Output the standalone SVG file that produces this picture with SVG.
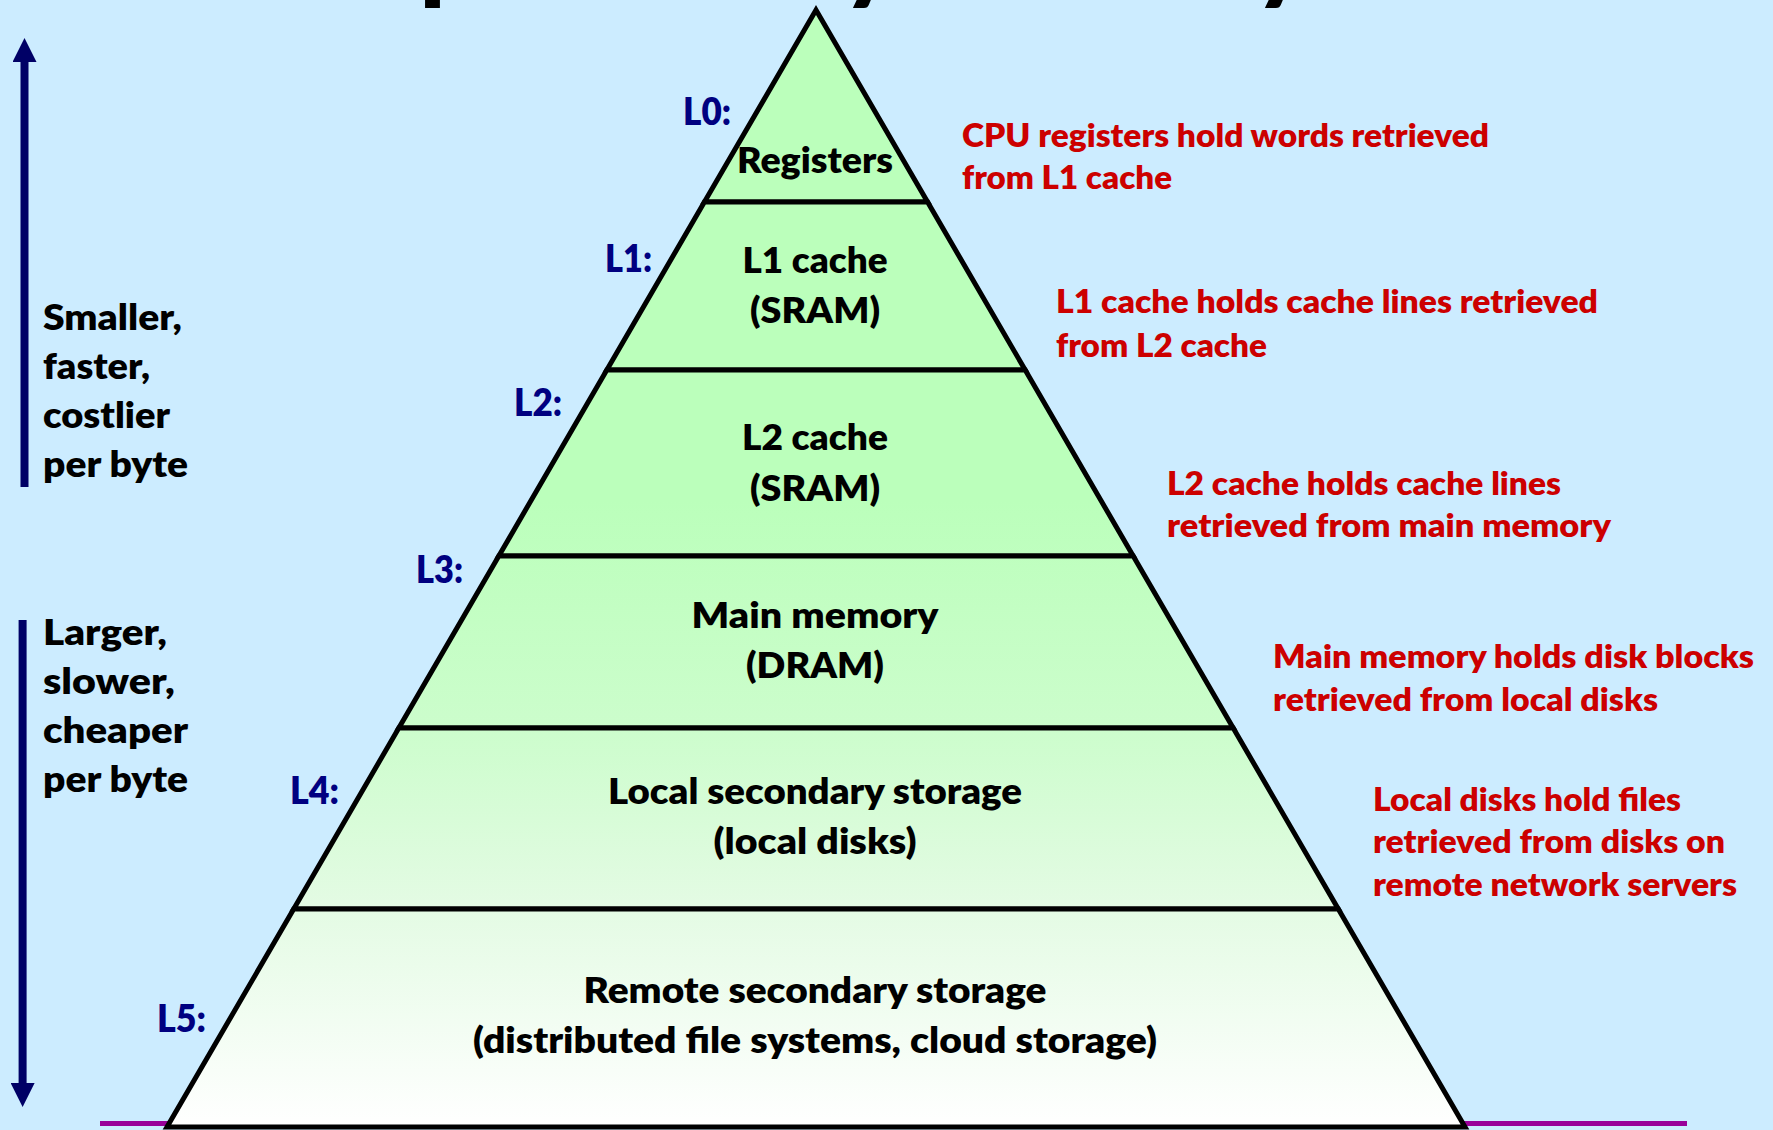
<svg xmlns="http://www.w3.org/2000/svg" width="1773" height="1130" viewBox="0 0 1773 1130">
<style>
text{font-family:Lato,"Open Sans","Liberation Sans",sans-serif;font-weight:800}
.tb{fill:#000;font-size:36px;text-anchor:middle}
.lft{fill:#000;font-size:36px}
.red{fill:#CC0000;font-size:32.5px}
.lvl{fill:#000080;font-size:38px}
.layer{stroke:#000;stroke-width:5;stroke-linejoin:miter;fill:url(#pg)}
.arr{stroke:#000066;stroke-width:8;fill:none}
</style>
<defs>
<linearGradient id="pg" gradientUnits="userSpaceOnUse" x1="0" y1="10" x2="0" y2="1127">
<stop offset="0" stop-color="#BBFFBB"/>
<stop offset="0.44" stop-color="#BBFFBB"/>
<stop offset="0.643" stop-color="#CCFDCC"/>
<stop offset="0.805" stop-color="#E4FBE4"/>
<stop offset="1" stop-color="#FFFFFF"/>
</linearGradient>
<marker id="ah" viewBox="0 0 24 24" markerWidth="24" markerHeight="24" refX="0" refY="12" orient="auto" markerUnits="userSpaceOnUse">
<path d="M0,0 L24,12 L0,24 Z" fill="#000066"/>
</marker>
</defs>
<rect x="0" y="0" width="1773" height="1130" fill="#CCECFF"/>
<text id="title" y="-8" font-size="96" fill="#000" x="205 251 297 344 420 472 495 543 561 642 688 763 810 843 886 912 971 995 1042 1076 1122 1156 1197 1255">Example Memory Hierarchy</text>
<line x1="100" y1="1123.5" x2="1687" y2="1123.5" stroke="#990099" stroke-width="5"/>
<g id="connectors">
<line class="arr" x1="24.5" y1="487" x2="24.5" y2="62" marker-end="url(#ah)"/>
<line class="arr" x1="22.6" y1="620" x2="22.6" y2="1083" marker-end="url(#ah)"/>
</g>
<g id="left-labels">
<text class="lft" x="43" y="330" textLength="139" lengthAdjust="spacingAndGlyphs">Smaller,</text>
<text class="lft" x="43" y="379" textLength="107" lengthAdjust="spacingAndGlyphs">faster,</text>
<text class="lft" x="43" y="428" textLength="127" lengthAdjust="spacingAndGlyphs">costlier</text>
<text class="lft" x="43" y="477" textLength="145" lengthAdjust="spacingAndGlyphs">per byte</text>
<text class="lft" x="43" y="645" textLength="124" lengthAdjust="spacingAndGlyphs">Larger,</text>
<text class="lft" x="43" y="694" textLength="132" lengthAdjust="spacingAndGlyphs">slower,</text>
<text class="lft" x="43" y="743" textLength="145" lengthAdjust="spacingAndGlyphs">cheaper</text>
<text class="lft" x="43" y="792" textLength="145" lengthAdjust="spacingAndGlyphs">per byte</text>
</g>
<g id="L0">
<polygon class="layer" points="816,10 927.6,202 704.4,202"/>
<text class="tb" x="815" y="173" textLength="156" lengthAdjust="spacingAndGlyphs">Registers</text>
<text class="lvl" x="683" y="125" textLength="48" lengthAdjust="spacingAndGlyphs">L0:</text>
<text class="red" x="962" y="147" textLength="527" lengthAdjust="spacingAndGlyphs">CPU registers hold words retrieved</text>
<text class="red" x="962" y="189" textLength="210" lengthAdjust="spacingAndGlyphs">from L1 cache</text>
</g>
<g id="L1">
<polygon class="layer" points="704.4,202 927.6,202 1025.2,370 606.8,370"/>
<text class="tb" x="815" y="273" textLength="145" lengthAdjust="spacingAndGlyphs">L1 cache</text>
<text class="tb" x="815" y="323" textLength="130" lengthAdjust="spacingAndGlyphs">(SRAM)</text>
<text class="lvl" x="605" y="272" textLength="47" lengthAdjust="spacingAndGlyphs">L1:</text>
<text class="red" x="1056" y="313" textLength="542" lengthAdjust="spacingAndGlyphs">L1 cache holds cache lines retrieved</text>
<text class="red" x="1056" y="357" textLength="211" lengthAdjust="spacingAndGlyphs">from L2 cache</text>
</g>
<g id="L2">
<polygon class="layer" points="606.8,370 1025.2,370 1133.2,556 498.8,556"/>
<text class="tb" x="815" y="450" textLength="146" lengthAdjust="spacingAndGlyphs">L2 cache</text>
<text class="tb" x="815" y="501" textLength="130" lengthAdjust="spacingAndGlyphs">(SRAM)</text>
<text class="lvl" x="514" y="416" textLength="48" lengthAdjust="spacingAndGlyphs">L2:</text>
<text class="red" x="1167" y="495" textLength="394" lengthAdjust="spacingAndGlyphs">L2 cache holds cache lines</text>
<text class="red" x="1167" y="537" textLength="444" lengthAdjust="spacingAndGlyphs">retrieved from main memory</text>
</g>
<g id="L3">
<polygon class="layer" points="498.8,556 1133.2,556 1233.2,728 398.8,728"/>
<text class="tb" x="815" y="628" textLength="247" lengthAdjust="spacingAndGlyphs">Main memory</text>
<text class="tb" x="815" y="678" textLength="138" lengthAdjust="spacingAndGlyphs">(DRAM)</text>
<text class="lvl" x="416" y="583" textLength="47" lengthAdjust="spacingAndGlyphs">L3:</text>
<text class="red" x="1273" y="668" textLength="481" lengthAdjust="spacingAndGlyphs">Main memory holds disk blocks</text>
<text class="red" x="1273" y="711" textLength="385" lengthAdjust="spacingAndGlyphs">retrieved from local disks</text>
</g>
<g id="L4">
<polygon class="layer" points="398.8,728 1233.2,728 1338.3,909 293.7,909"/>
<text class="tb" x="815" y="804" textLength="414" lengthAdjust="spacingAndGlyphs">Local secondary storage</text>
<text class="tb" x="815" y="854" textLength="203" lengthAdjust="spacingAndGlyphs">(local disks)</text>
<text class="lvl" x="290" y="804" textLength="49" lengthAdjust="spacingAndGlyphs">L4:</text>
<text class="red" x="1373" y="811" textLength="308" lengthAdjust="spacingAndGlyphs">Local disks hold files</text>
<text class="red" x="1373" y="853" textLength="352" lengthAdjust="spacingAndGlyphs">retrieved from disks on</text>
<text class="red" x="1373" y="896" textLength="364" lengthAdjust="spacingAndGlyphs">remote network servers</text>
</g>
<g id="L5">
<polygon class="layer" points="293.7,909 1338.3,909 1465,1127 167,1127"/>
<text class="tb" x="815" y="1003" textLength="463" lengthAdjust="spacingAndGlyphs">Remote secondary storage</text>
<text class="tb" x="815" y="1053" textLength="684" lengthAdjust="spacingAndGlyphs">(distributed file systems, cloud storage)</text>
<text class="lvl" x="157" y="1032" textLength="49" lengthAdjust="spacingAndGlyphs">L5:</text>
</g>
</svg>
